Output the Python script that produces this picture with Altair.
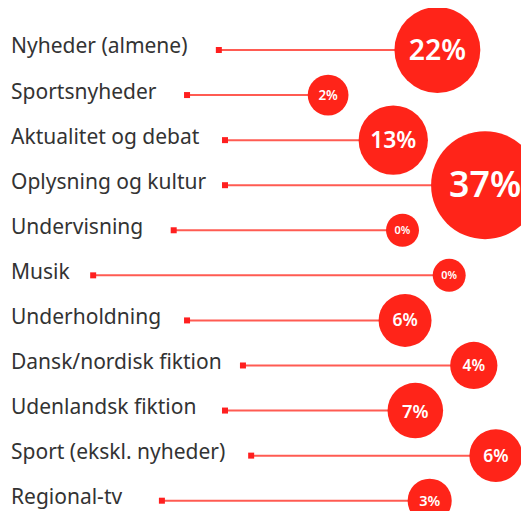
import altair as alt
import pandas as pd

categories = [
    "Nyheder (almene)", "Sportsnyheder", "Aktualitet og debat",
    "Oplysning og kultur", "Undervisning", "Musik", "Underholdning",
    "Dansk/nordisk fiktion", "Udenlandsk fiktion", "Sport (ekskl. nyheder)",
    "Regional-tv",
]
shares = [22, 2, 13, 37, 0, 0, 6, 4, 7, 6, 3]
positions = [83.7, 62.4, 75.1, 93.0, 76.9, 86.0, 77.4, 90.8, 79.4, 95.1, 82.2]
line_starts = [41.1, 34.9, 42.3, 42.3, 32.3, 16.6, 34.9, 45.8, 42.3, 47.4, 30.0]

df = pd.DataFrame({
    "category": categories,
    "share": shares,
    "pos": positions,
    "start": line_starts,
    "label": [f"{s}%" for s in shares],
})

FONT = "Noto Sans"
RED = "#ff2419"
LINE_RED = "#ff5b52"

y_enc = alt.Y("category:N", sort=categories,
              scale=alt.Scale(type="point", padding=0.58, align=0.803), axis=None)
x_scale = alt.Scale(domain=[0, 100])

base = alt.Chart(df)

labels = base.mark_text(align="left", baseline="alphabetic", dy=3.5, font=FONT,
                        fontSize=21, color="#333333").encode(
    x=alt.value(3), y=y_enc, text="category:N")

lines = base.mark_rule(color=LINE_RED, strokeWidth=2).encode(
    x=alt.X("start:Q", scale=x_scale, axis=None), x2="pos:Q", y=y_enc)

squares = base.mark_square(size=36, color="#ff1f1f", opacity=1, filled=True).encode(
    x=alt.X("start:Q", scale=x_scale, axis=None), y=y_enc)

circles = base.mark_circle(color=RED, opacity=1).encode(
    x=alt.X("pos:Q", scale=x_scale, axis=None), y=y_enc,
    size=alt.Size("share:Q", scale=alt.Scale(domain=[0, 37], range=[1089, 11664], zero=False),
                  legend=None))

texts = base.transform_calculate(
    fs="0.33*sqrt(1089 + (11664-1089)*datum.share/37)"
).mark_text(font=FONT, fontWeight=600, color="white", baseline="middle",
            align="center", dy=1).encode(
    x=alt.X("pos:Q", scale=x_scale, axis=None), y=y_enc,
    text="label:N", size=alt.Size("fs:Q", scale=None))

chart = alt.layer(labels, lines, squares, circles, texts).properties(
    width=513, height=503, padding=0,
    autosize=alt.AutoSizeParams(type="none"),
).configure_view(stroke=None)

chart.save("out.html", embed_options={"renderer": "svg", "actions": False})
